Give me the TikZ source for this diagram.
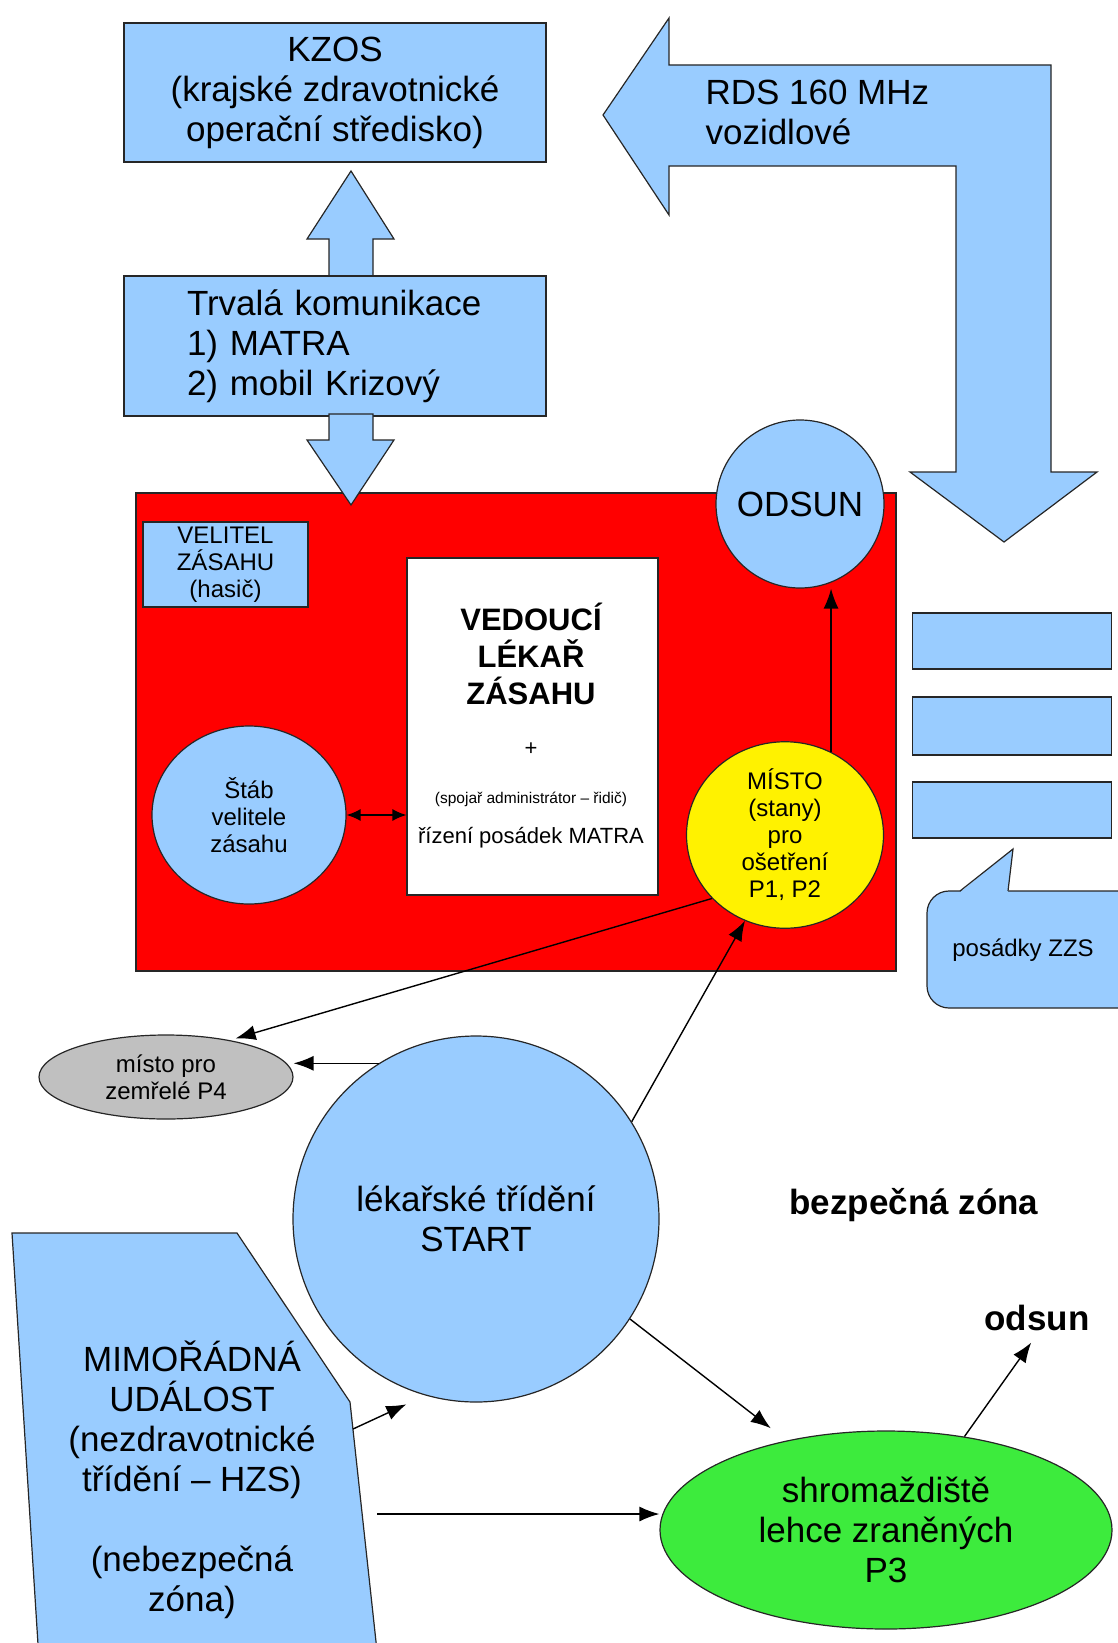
\documentclass[tikz,border=0pt]{standalone}
\usepackage{fontspec}
\setmainfont{Liberation Sans}
\usepackage{tikz}
\usetikzlibrary{shapes.geometric,arrows.meta}
\definecolor{skyblue}{HTML}{99CCFF}
\definecolor{grassgreen}{HTML}{3DEB3D}
\definecolor{stonegray}{HTML}{C0C0C0}

\begin{document}
\begin{tikzpicture}[x=1pt,y=-1pt,
    bigfont/.style={font=\fontsize{35}{40}\selectfont},
    smallfont/.style={font=\fontsize{24}{27}\selectfont},
    midfont/.style={font=\fontsize{22}{25}\selectfont},
    tinyfont/.style={font=\fontsize{15.5}{17}\selectfont},
    titlefont/.style={font=\fontsize{31}{37}\selectfont\bfseries},
    boldfont/.style={font=\fontsize{35}{40}\selectfont\bfseries},
    outline/.style={draw=black!85,line width=1.2pt},
    box/.style={outline,fill=skyblue,rectangle,inner sep=0pt,align=center},
    disc/.style={outline,circle,inner sep=0pt,align=center},
    oval/.style={outline,ellipse,inner sep=0pt,align=center},
    blockarr/.style={outline,fill=skyblue},
    arr/.style={-{Latex[length=20pt,width=15pt]},line width=1.4pt},
    dbl/.style={{Latex[length=14pt,width=12pt]}-{Latex[length=14pt,width=12pt]},line width=1.4pt}]
    \clip (0,0) rectangle (1118,1643);

    \draw[blockarr] (603,115) -- (669,18) -- (669,65) -- (1051,65) -- (1051,472) -- (1097,472) -- (1004,542)
        -- (910,472) -- (956,472) -- (956,166) -- (669,166) -- (669,215) -- cycle;
    \node[bigfont,anchor=west,align=left] (rds) at (702,112) {RDS 160 MHz\\vozidlové};

    \draw[blockarr] (351,171) -- (394,239) -- (373,239) -- (373,278) -- (329,278) -- (329,239) -- (307,239) -- cycle;
    \node[box,bigfont,minimum width=422pt,minimum height=139pt] (kzos) at (335,92.5)
        {KZOS\\(krajské zdravotnické\\operační středisko)};
    \node[box,bigfont,minimum width=422pt,minimum height=140pt,text width=296pt,align=left] (comm) at (335,346)
        {Trvalá komunikace\\1) MATRA\\2) mobil Krizový};

    \filldraw[fill=red,draw=black!85,line width=1.2pt] (136,493) rectangle (896,971);
    \draw[blockarr] (329,414) -- (373,414) -- (373,440) -- (394,440) -- (351,505) -- (307,440) -- (329,440) -- cycle;

    \node[box,smallfont,minimum width=165pt,minimum height=85pt] (chief) at (225.5,564.5) {VELITEL\\ZÁSAHU\\(hasič)};
    \node[box,fill=white,minimum width=251pt,minimum height=337pt] (leader) at (532.5,726.5) {};
    \node[titlefont,align=center] (title) at (531,654) {VEDOUCÍ\\LÉKAŘ\\ZÁSAHU};
    \node[midfont] (plus) at (531,749) {+};
    \node[tinyfont] (team) at (531,799) {(spojař administrátor – řidič)};
    \node[midfont] (matra) at (531,838) {řízení posádek MATRA};
    \node[disc,fill=skyblue,bigfont,minimum size=168pt] (evac) at (800,504) {ODSUN};
    \node[oval,fill=skyblue,smallfont,minimum width=194pt,minimum height=178pt] (staff) at (249,815) {Štáb\\velitele\\zásahu};
    \node[oval,fill=yellow,smallfont,minimum width=197pt,minimum height=176pt] (treat) at (785,835)
        {MÍSTO\\(stany)\\pro\\ošetření\\P1, P2};

    \node[box,minimum width=199pt,minimum height=56pt] (crew1) at (1012,641) {};
    \node[box,minimum width=199pt,minimum height=58pt] (crew2) at (1012,726) {};
    \node[box,minimum width=199pt,minimum height=56pt] (crew3) at (1012,810) {};
    \draw[blockarr,rounded corners=22pt] (927,891) rectangle (1140,1008);
    \fill[skyblue] (959,893) -- (1013,849) -- (1008,893) -- cycle;
    \draw[outline] (960,891) -- (1013,849) -- (1008,891);
    \node[smallfont] (crews) at (1023,950) {posádky ZZS};

    \node[oval,fill=stonegray,smallfont,minimum width=254pt,minimum height=84pt] (dead) at (166,1077) {místo pro\\zemřelé P4};
    \node[disc,fill=skyblue,bigfont,minimum size=366pt] (triage) at (476,1219) {lékařské třídění\\START};
    \node[oval,fill=grassgreen,bigfont,minimum width=452pt,minimum height=198pt] (mild) at (886,1530)
        {shromaždiště\\lehce zraněných\\P3};
    \node[boldfont] (safe) at (914,1205) {bezpečná zóna};
    \node[boldfont] (out) at (1037,1318) {odsun};

    \draw[blockarr] (12,1233) -- (237,1233) -- (350,1402) -- (378,1660) -- (39,1660) -- cycle;
    \node[bigfont,align=center] (event) at (192,1480)
        {MIMOŘÁDNÁ\\UDÁLOST\\(nezdravotnické\\třídění – HZS)\\[40pt](nebezpečná\\zóna)};
    \coordinate (evA) at (353,1429);
    \coordinate (evB) at (377,1514);

    \draw[dbl] (staff.east) -- (staff.east -| leader.west);
    \draw[arr] (treat.61) -- (treat.61 |- evac.south);
    \draw[arr,shorten >=6pt] (treat.221) -- (dead.30);
    \draw[arr] (triage.122) -- (triage.122 -| dead.east);
    \draw[arr] (triage.32) -- (treat.245);
    \draw[arr,shorten >=20pt] (triage.-33) -- (mild.138);
    \draw[arr,shorten >=10pt] (mild.50) -- (out.south);
    \draw[arr,shorten >=21pt] (evA) -- (triage.254);
    \draw[arr] (evB) -- (evB -| mild.west);
\end{tikzpicture}
\end{document}
